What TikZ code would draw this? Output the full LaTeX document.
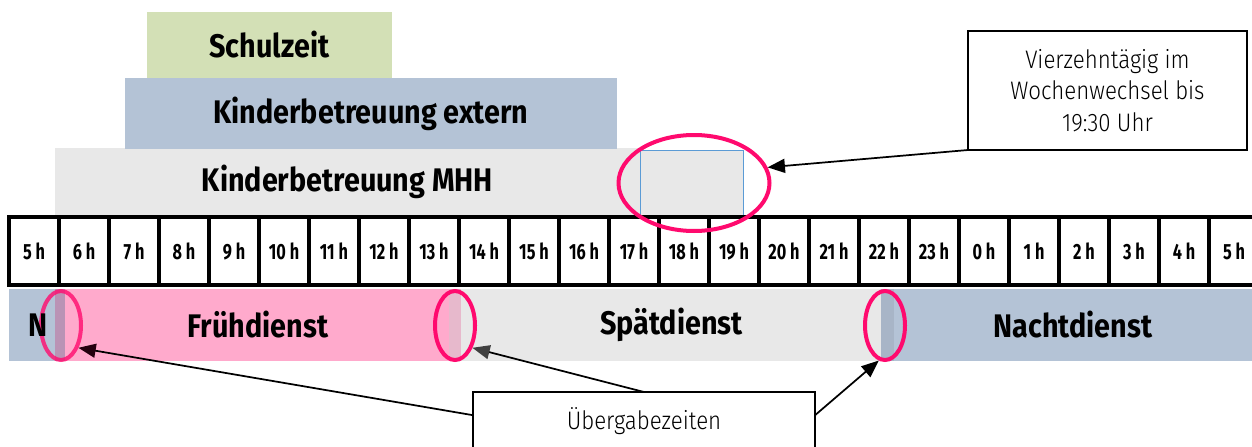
\documentclass[tikz,border=0pt]{standalone}
\usepackage{fontspec}
\setmainfont{Fira Sans}[FakeStretch=0.88]
\newfontfamily\hourfont{Fira Sans}[FakeStretch=0.74]
\newfontfamily\notefont{Fira Sans Light}[FakeStretch=0.88]
\usetikzlibrary{shapes.geometric,arrows.meta,calc}
\definecolor{greenS}{HTML}{D3E0B6}
\definecolor{blueK}{HTML}{B4C3D6}
\definecolor{greyM}{HTML}{E8E8E8}
\definecolor{pinkF}{HTML}{FFAACC}
\definecolor{ovA}{HTML}{BA93B5}
\definecolor{ovB}{HTML}{E7B9CC}
\definecolor{ovC}{HTML}{A8B5C7}
\definecolor{magE}{HTML}{FF0A6E}
\definecolor{blueL}{HTML}{5B9BD5}
\begin{document}
\begin{tikzpicture}[x=0.75pt,y=-0.75pt,
  rect/.style n args={4}{rectangle, inner sep=0pt, outer sep=0pt,
    minimum width={(#3-#1)*0.75pt}, minimum height={(#4-#2)*0.75pt},
    at={({(#1+#3)/2},{(#2+#4)/2})}},
  biglabel/.style={font=\bfseries\fontsize{24.5}{28}\selectfont},
  cell/.style={draw=black, line width=2.4pt, fill=white, font=\hourfont\bfseries\fontsize{16.5}{18}\selectfont},
  note/.style={draw=black, line width=0.8pt, fill=white, align=center, font=\notefont\fontsize{19}{23.5}\selectfont},
  hl/.style={ellipse, draw=magE, line width=3pt, inner sep=0pt},
  arr/.style={line width=1.3pt, -{Triangle[length=13pt,width=10.5pt]}},
]
\useasboundingbox (0,0) rectangle (1252,446);
\clip (0,0) rectangle (1252,446);

% care bands
\node[rect={55}{148}{640}{215}, fill=greyM, biglabel] (mhh) {Kinderbetreuung MHH};
\node[rect={640}{150}{743}{215}, fill=greyM, draw=blueL, line width=0.6pt] (extra) {};
\node[rect={125}{78}{617}{149}, fill=blueK, biglabel] (ext) {Kinderbetreuung extern};
\node[rect={147}{12}{392}{78}, fill=greenS, biglabel] (schul) {Schulzeit};

% hour grid
\foreach \i in {0,...,24}{
  \pgfmathtruncatemacro\hr{mod(5+\i,24)}
  \pgfmathtruncatemacro\xa{9+50*\i}
  \pgfmathtruncatemacro\xb{59+50*\i}
  \node[cell, rect={\xa}{217}{\xb}{285}] (h\i) {\hr{} h};
}

% shifts
\node[rect={55}{289}{461}{361}, fill=pinkF, biglabel] (frueh) {Frühdienst};
\node[rect={449}{289}{894}{361}, fill=greyM, biglabel] (spaet) {Spätdienst};
\node[rect={894}{289}{1252}{361}, fill=blueK, biglabel] (nacht) {Nachtdienst};
\node[rect={9}{289}{65}{361}, fill=blueK] (nbar) {};
\node[rect={55}{289}{65}{361}, fill=ovA] (ov1) {};
\node[rect={449}{289}{461}{361}, fill=ovB] (ov2) {};
\node[rect={881}{289}{894}{361}, fill=ovC] (ov3) {};

% highlight ellipses
\node[hl, draw opacity=0.8, minimum width=40*0.75pt, minimum height=69*0.75pt] (e1) at (61,325.5) {};
\node[hl, minimum width=40*0.75pt, minimum height=69*0.75pt] (e2) at (455,325.5) {};
\node[hl, minimum width=40*0.75pt, minimum height=69*0.75pt] (e3) at (885,325.5) {};
\node[hl, minimum width=151*0.75pt, minimum height=96*0.75pt] (e4) at (694,183) {};
\node[biglabel, inner sep=0pt] (ntext) at (38,325) {N};

% callouts
\node[note, rect={968}{31}{1247}{150}] (call) {Vierzehntägig im\\Wochenwechsel bis\\19:30 Uhr};
\node[note, rect={473}{392}{815}{450}] (ub) {Übergabezeiten};

\draw[arr] (call.south west) -- (e4.12);
\draw[arr, -{Triangle[length=13pt,width=10.5pt,color=black!65!magE!40!black]}] ($(ub.north west)!0.4!(ub.south west)$) -- (e1.-52);
\draw[arr, -{Triangle[length=13pt,width=10.5pt,color=black!75]}] (ub.north) -- (e2.-52);
\draw[arr] ($(ub.north east)!0.4!(ub.south east)$) -- (e3.-100);
\end{tikzpicture}
\end{document}
